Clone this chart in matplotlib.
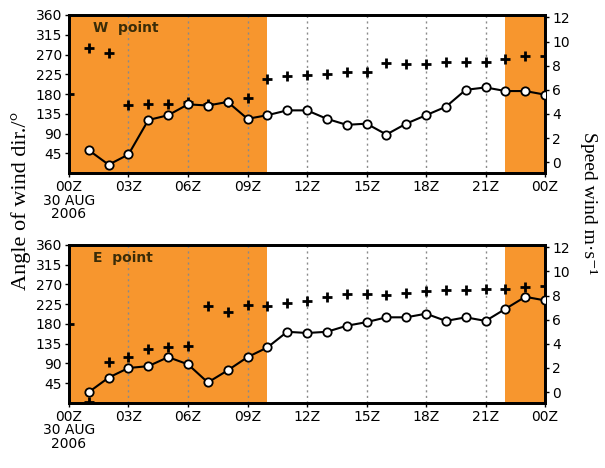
import matplotlib
matplotlib.use("Agg")
import matplotlib.pyplot as plt
import numpy as np

# hours after 00Z 30 AUG 2006
hours_dir = list(range(0, 25))
hours_spd = list(range(1, 25))

# W point
w_dir = [180, 285, 274, 154, 158, 158, 161, 158, 163, 172, 215, 220, 224,
         226, 231, 231, 251, 249, 249, 254, 254, 254, 260, 267, 267]
w_spd = [1.0, -0.2, 0.65, 3.5, 3.9, 4.8, 4.7, 5.0, 3.6, 3.9, 4.3, 4.3,
         3.6, 3.1, 3.2, 2.3, 3.2, 3.9, 4.6, 6.0, 6.2, 5.9, 5.9, 5.6]

# E point
e_dir = [180, 2, 93, 104, 122, 127, 129, 222, 208, 224, 222, 228, 233,
         242, 249, 249, 247, 251, 254, 258, 258, 260, 260, 265, 267]
e_spd = [0.0, 1.2, 2.0, 2.15, 2.9, 2.3, 0.8, 1.8, 2.9, 3.7, 5.0, 4.9,
         5.0, 5.5, 5.8, 6.2, 6.2, 6.5, 5.9, 6.2, 5.9, 6.9, 7.9, 7.6]

night_spans = [(0, 10), (22, 24)]
xtick_pos = [0, 3, 6, 9, 12, 15, 18, 21, 24]
xtick_lab = ['00Z\n30 AUG\n2006', '03Z', '06Z', '09Z', '12Z', '15Z', '18Z', '21Z', '00Z']
dir_ticks = [45, 90, 135, 180, 225, 270, 315, 360]
spd_ticks = [0, 2, 4, 6, 8, 10, 12]

orange = '#F7962E'
plt.rcParams['font.family'] = ['DejaVu Sans Condensed', 'Liberation Sans Narrow', 'DejaVu Sans']

fig = plt.figure(figsize=(6.05, 4.68), dpi=100)
ax_top = fig.add_axes([0.114, 0.630, 0.787, 0.338])
ax_bot = fig.add_axes([0.114, 0.139, 0.787, 0.3376])


def panel(ax, dirs, spds, name):
    for a, b in night_spans:
        ax.axvspan(a, b, color=orange, lw=0, zorder=0)
    for h in xtick_pos[1:-1]:
        ax.axvline(h, color='#8a8a8a', ls=(0, (1.5, 2.5)), lw=1, zorder=1)
    ax.plot(hours_dir, dirs, ls='none', marker='+', color='black',
            ms=7, mew=2, zorder=3)
    ax.set_xlim(0, 24)
    ax.set_ylim(0, 360)
    ax.set_yticks(dir_ticks)
    ax.set_xticks(xtick_pos)
    ax.set_xticklabels(xtick_lab, linespacing=0.95, va='top')
    ax.tick_params(labelsize=10, length=3, width=1, direction='out', pad=2)
    for s in ax.spines.values():
        s.set_linewidth(2)
    ax.text(1.2, 330, name, fontsize=10, fontweight='bold', color='#3a2c08',
            family=['DejaVu Sans'], va='center', zorder=4)

    ax2 = ax.twinx()
    ax2.plot(hours_spd, spds, color='black', lw=1.5, marker='o', ms=6,
             mfc='white', mec='black', mew=1.3, zorder=3)
    ax2.set_ylim(-0.9, 12.2)
    ax2.set_yticks(spd_ticks)
    ax2.tick_params(labelsize=10, length=3, width=1, direction='out', pad=2)
    for s in ax2.spines.values():
        s.set_linewidth(2)
    return ax2


panel(ax_top, w_dir, w_spd, 'W  point')
panel(ax_bot, e_dir, e_spd, 'E  point')

fig.text(0.035, 0.57, 'Angle of wind dir./°', rotation=90, fontsize=16,
         family=['Liberation Serif', 'DejaVu Serif'], ha='center', va='center')
fig.text(0.972, 0.565, 'Speed wind m·s⁻¹', rotation=270, fontsize=14,
         family=['Liberation Serif', 'DejaVu Serif'], ha='center', va='center')

fig.savefig('out.png', dpi=100)
